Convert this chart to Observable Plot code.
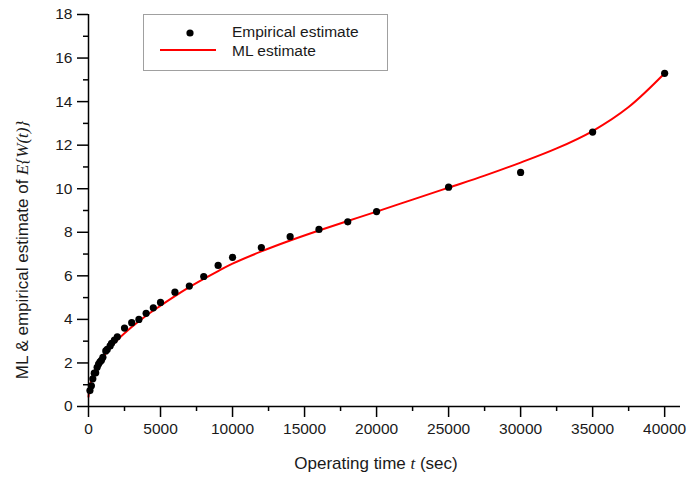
<!DOCTYPE html>
<html>
<head>
<meta charset="utf-8">
<script src="https://cdn.jsdelivr.net/npm/d3@7"></script>
<script src="https://cdn.jsdelivr.net/npm/@observablehq/plot@0.6"></script>
<style>
  html, body { margin: 0; padding: 0; background: #fff; }
  #chart { position: relative; width: 694px; height: 477px; }
  svg { font-family: "Liberation Sans", Arial, sans-serif; }
</style>
</head>
<body>
<div id="chart"></div>
<script>
// Empirical estimate points
const empTimes = [100, 200, 300, 400, 500, 600, 700, 800, 900, 1000, 1200, 1300, 1500, 1600, 1800, 2000,
  2500, 3000, 3500, 4000, 4500, 5000, 6000, 7000, 8000, 9000, 10000, 12000, 14000, 16000, 18000, 20000,
  25000, 30000, 35000, 40000];
const empValues = [0.73, 0.95, 1.27, 1.53, 1.55, 1.8, 1.95, 2.05, 2.12, 2.26, 2.55, 2.62, 2.78, 2.9, 3.05, 3.2,
  3.6, 3.85, 4.0, 4.28, 4.53, 4.78, 5.25, 5.53, 5.97, 6.48, 6.85, 7.3, 7.8, 8.13, 8.48, 8.95,
  10.07, 10.75, 12.6, 15.3];

// ML estimate curve
const mlTimes = [0, 100, 250, 500, 1000, 1500, 2000, 3000, 4000, 5000, 6000, 7000, 8000, 9000, 10000, 12000,
  14000, 16000, 18000, 20000, 22500, 25000, 27500, 30000, 32500, 35000, 37500, 40000];
const mlValues = [0.45, 0.95, 1.3, 1.7, 2.25, 2.68, 3.05, 3.65, 4.17, 4.63, 5.07, 5.48, 5.86, 6.22, 6.56, 7.12,
  7.62, 8.08, 8.52, 8.95, 9.5, 10.05, 10.6, 11.2, 11.85, 12.65, 13.75, 15.3];

// Ticks
const xMajor = [0, 5000, 10000, 15000, 20000, 25000, 30000, 35000, 40000];
const xMinor = [2500, 7500, 12500, 17500, 22500, 27500, 32500, 37500];
const yMajor = [0, 2, 4, 6, 8, 10, 12, 14, 16, 18];
const yMinor = [1, 3, 5, 7, 9, 11, 13, 15, 17];

const emp = empTimes.map((t, i) => ({t, v: empValues[i]}));
const ml = mlTimes.map((t, i) => ({t, v: mlValues[i]}));

const fmt = d3.format("d");

const plot = Plot.plot({
  width: 694,
  height: 477,
  marginLeft: 88,
  marginRight: 14,
  marginTop: 14,
  marginBottom: 71,
  style: {fontFamily: '"Liberation Sans", Arial, sans-serif', background: "#fff"},
  x: {domain: [0, 41100]},
  y: {domain: [0, 18]},
  marks: [
    Plot.axisX(xMajor, {tickSize: 11, tickPadding: 5, tickFormat: fmt, label: null, fontSize: 15.5, strokeWidth: 1.5}),
    Plot.axisX(xMinor, {tickSize: 5, tickFormat: () => "", label: null, strokeWidth: 1.5}),
    Plot.axisY(yMajor, {tickSize: 11, tickPadding: 5, tickFormat: fmt, label: null, fontSize: 15.5, strokeWidth: 1.5}),
    Plot.axisY(yMinor, {tickSize: 5, tickFormat: () => "", label: null, strokeWidth: 1.5}),
    Plot.line(ml, {x: "t", y: "v", stroke: "#f00", strokeWidth: 2, curve: "catmull-rom"}),
    Plot.dot(emp, {x: "t", y: "v", r: 3.6, fill: "#000", stroke: "none"}),
    Plot.ruleY([0], {stroke: "#000", strokeWidth: 1.5}),
    Plot.ruleX([0], {stroke: "#000", strokeWidth: 1.5})
  ]
});

document.getElementById("chart").appendChild(plot);

const svg = d3.select(plot);
svg.selectAll("text").attr("fill", "#1a1a1a");

// X axis label
const xl = svg.append("text")
  .attr("x", 376).attr("y", 469)
  .attr("text-anchor", "middle")
  .attr("font-size", 17)
  .attr("fill", "#1a1a1a");
xl.append("tspan").text("Operating time ");
xl.append("tspan").attr("font-family", '"Liberation Serif", "Times New Roman", serif').attr("font-style", "italic").text("t");
xl.append("tspan").text(" (sec)");

// Y axis label
const yl = svg.append("text")
  .attr("transform", "translate(28,250) rotate(-90)")
  .attr("text-anchor", "middle")
  .attr("font-size", 17)
  .attr("fill", "#1a1a1a");
yl.append("tspan").text("ML & empirical estimate of ");
yl.append("tspan").attr("font-family", '"Liberation Serif", "Times New Roman", serif').attr("font-style", "italic").text("E{W(t)}");

// Legend
const lg = svg.append("g").attr("text-anchor", "start");
lg.append("rect").attr("x", 143.5).attr("y", 14.5).attr("width", 244).attr("height", 56)
  .attr("fill", "#fff").attr("stroke", "#a0a0a0").attr("stroke-width", 1);
lg.append("circle").attr("cx", 190).attr("cy", 33).attr("r", 3.6).attr("fill", "#000");
lg.append("line").attr("x1", 160).attr("x2", 216).attr("y1", 50).attr("y2", 50)
  .attr("stroke", "#f00").attr("stroke-width", 2);
lg.append("text").attr("x", 232).attr("y", 37).attr("text-anchor", "start").attr("font-size", 15.5).attr("fill", "#1a1a1a").text("Empirical estimate");
lg.append("text").attr("x", 232).attr("y", 56).attr("text-anchor", "start").attr("font-size", 15.5).attr("fill", "#1a1a1a").text("ML estimate");
</script>
</body>
</html>
